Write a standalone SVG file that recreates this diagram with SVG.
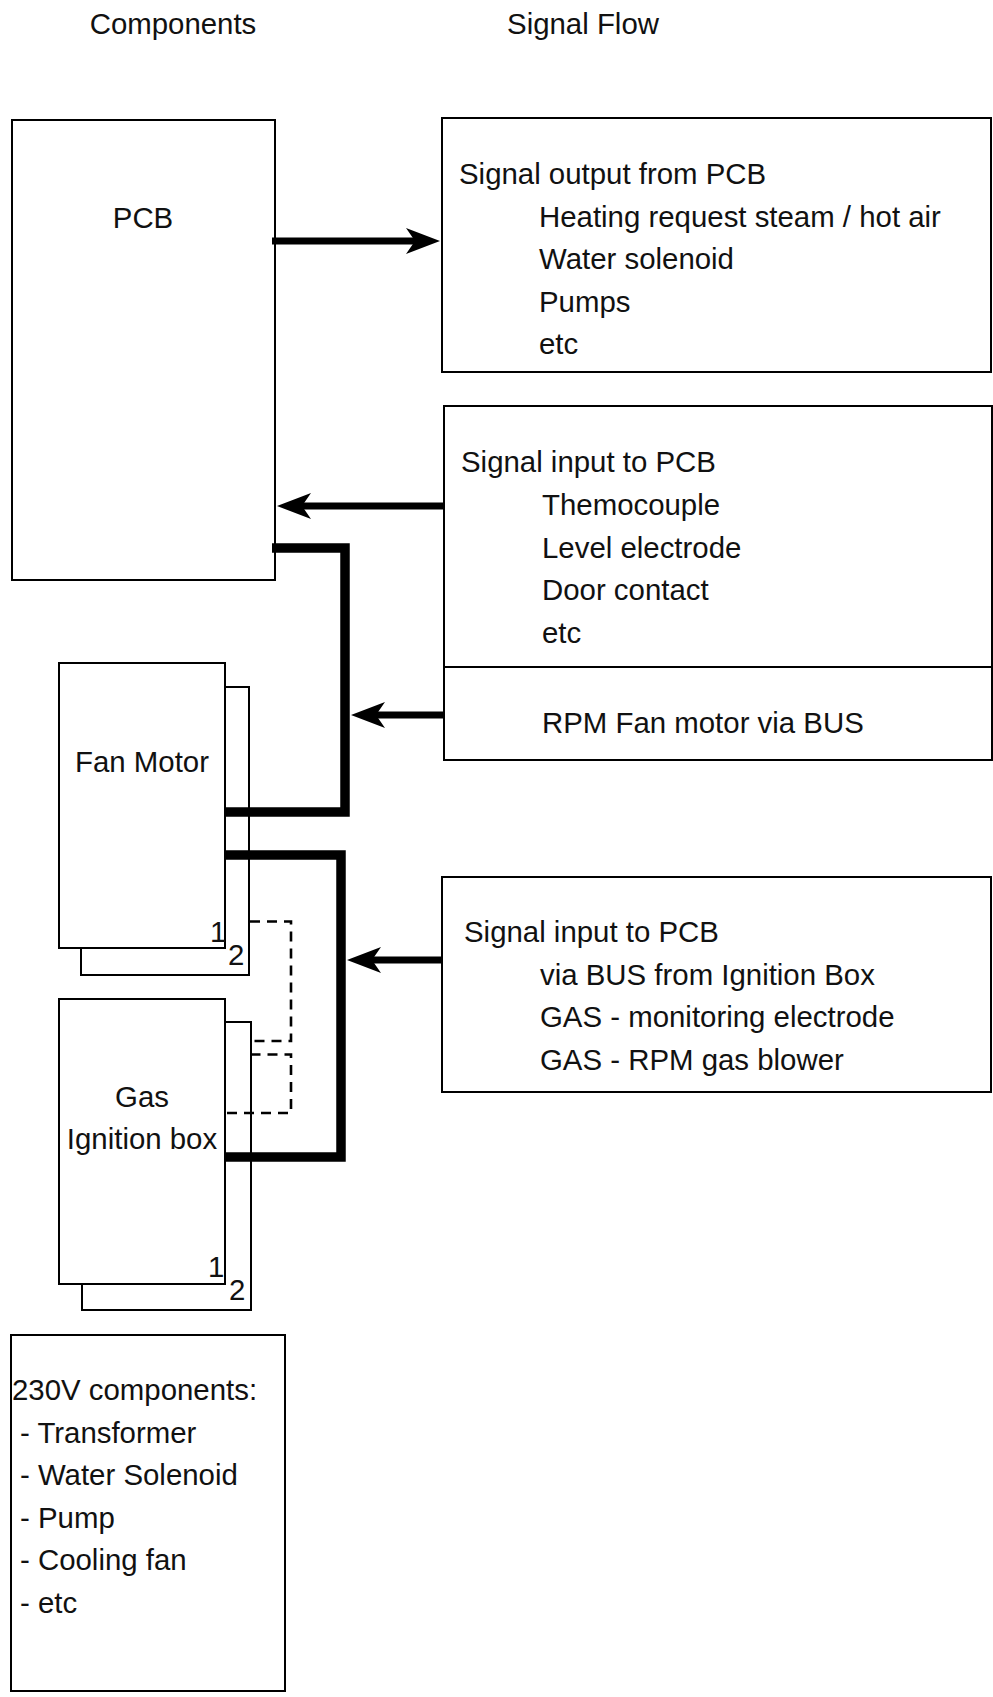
<svg xmlns="http://www.w3.org/2000/svg" width="993" height="1697" viewBox="0 0 993 1697">
  <style>
    .box { fill: #ffffff; stroke: #000000; stroke-width: 2; }
    .t { font-family: "Liberation Sans", Arial, Helvetica, sans-serif; font-size: 29.4px; fill: #111111; }
    .c { text-anchor: middle; }
    .thick { fill: none; stroke: #000000; stroke-width: 9.5; stroke-linejoin: miter; stroke-linecap: butt; }
    .arrow { fill: none; stroke: #000000; stroke-width: 7; marker-end: url(#head); }
    .dash { fill: none; stroke: #000000; stroke-width: 2.6; stroke-dasharray: 10 7; }
  </style>
  <defs>
    <marker id="head" markerUnits="userSpaceOnUse" markerWidth="36" markerHeight="28" refX="11" refY="13" orient="auto" overflow="visible">
      <path d="M0,0 L34,13 L0,26 L9,13 Z" fill="#000000"/>
    </marker>
  </defs>
  <rect width="993" height="1697" fill="#ffffff"/>

  <g id="headers">
    <text class="t c" x="173" y="34">Components</text>
    <text class="t c" x="583" y="34">Signal Flow</text>
  </g>

  <g id="pcb">
    <rect class="box" x="12" y="120" width="263" height="460"/>
    <text class="t c" x="143" y="228">PCB</text>
  </g>

  <g id="signal-output">
    <rect class="box" x="442" y="118" width="549" height="254"/>
    <text class="t" x="459" y="184">Signal output from PCB</text>
    <text class="t" x="539" y="226.5">Heating request steam / hot air</text>
    <text class="t" x="539" y="269">Water solenoid</text>
    <text class="t" x="539" y="311.5">Pumps</text>
    <text class="t" x="539" y="354">etc</text>
  </g>

  <g id="signal-input">
    <rect class="box" x="444" y="406" width="548" height="261"/>
    <text class="t" x="461" y="472">Signal input to PCB</text>
    <text class="t" x="542" y="515">Themocouple</text>
    <text class="t" x="542" y="557.5">Level electrode</text>
    <text class="t" x="542" y="600">Door contact</text>
    <text class="t" x="542" y="643">etc</text>
  </g>

  <g id="rpm-fan">
    <rect class="box" x="444" y="667" width="548" height="93"/>
    <text class="t" x="542" y="733">RPM Fan motor via BUS</text>
  </g>

  <g id="signal-input-gas">
    <rect class="box" x="442" y="877" width="549" height="215"/>
    <text class="t" x="464" y="942">Signal input to PCB</text>
    <text class="t" x="540" y="984.5">via BUS from Ignition Box</text>
    <text class="t" x="540" y="1027">GAS - monitoring electrode</text>
    <text class="t" x="540" y="1069.5">GAS - RPM gas blower</text>
  </g>

  <g id="fan-motor">
    <rect class="box" x="81" y="687" width="168" height="288"/>
    <rect class="box" x="59" y="663" width="166" height="285"/>
    <text class="t c" x="142" y="772">Fan Motor</text>
    <text class="t" x="210" y="942">1</text>
    <text class="t" x="228" y="965">2</text>
  </g>

  <g id="gas-ignition">
    <rect class="box" x="82" y="1022" width="169" height="288"/>
    <rect class="box" x="59" y="999" width="166" height="285"/>
    <text class="t c" x="142" y="1107">Gas</text>
    <text class="t c" x="142" y="1148.5">Ignition box</text>
    <text class="t" x="208" y="1277">1</text>
    <text class="t" x="229" y="1300">2</text>
  </g>

  <g id="components-230v">
    <rect class="box" x="11" y="1335" width="274" height="356"/>
    <text class="t" x="12" y="1400">230V components:</text>
    <text class="t" x="20" y="1442.5">- Transformer</text>
    <text class="t" x="20" y="1485">- Water Solenoid</text>
    <text class="t" x="20" y="1527.5">- Pump</text>
    <text class="t" x="20" y="1570">- Cooling fan</text>
    <text class="t" x="20" y="1612.5">- etc</text>
  </g>

  <g id="connectors">
    <path class="arrow" d="M272,241 H417"/>
    <path class="arrow" d="M444,506 H300"/>
    <path class="arrow" d="M444,715 H374"/>
    <path class="arrow" d="M442,960 H370"/>
    <path class="thick" d="M272,548 H345 V812 H225"/>
    <path class="thick" d="M225,855 H341 V1157 H225"/>
    <path class="dash" d="M250,921.5 H291 V1041 H250.5"/>
    <path class="dash" d="M250.5,1054.5 H291 V1113 H225"/>
  </g>
</svg>
